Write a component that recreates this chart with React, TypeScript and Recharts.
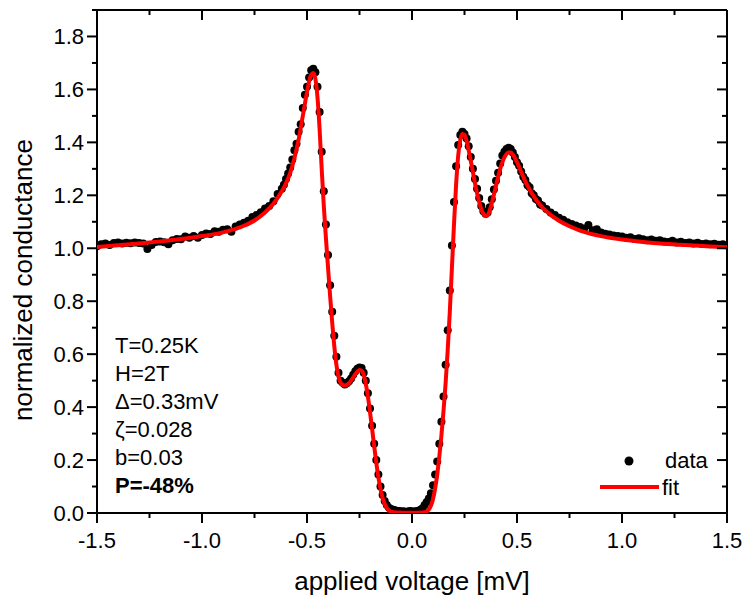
import { ComposedChart, ReferenceLine, Scatter, XAxis, YAxis } from 'recharts'

const FONT = '"Liberation Sans", Arial, sans-serif'
const W = 746
const H = 598
const M = { top: 10, right: 19, left: 0, bottom: 0 }
const Y_AXIS_W = 97
const X_AXIS_H = 85
const PLOT_W = W - M.left - M.right - Y_AXIS_W
const PLOT_H = H - M.top - M.bottom - X_AXIS_H

const X_TICKS = [-1.5, -1.25, -1.0, -0.75, -0.5, -0.25, 0, 0.25, 0.5, 0.75, 1.0, 1.25, 1.5]
const Y_TICKS = [0, 0.1, 0.2, 0.3, 0.4, 0.5, 0.6, 0.7, 0.8, 0.9, 1.0, 1.1, 1.2, 1.3, 1.4, 1.5, 1.6, 1.7, 1.8, 1.9]

const PARAMS = ['T=0.25K', 'H=2T', 'Δ=0.33mV', 'ζ=0.028', 'b=0.03']
const POLARIZATION = 'P=-48%'

// fit curve: [voltage mV, normalized conductance]
const fitCurve: [number, number][] = [
  [-1.5, 1.005], [-1.4, 1.011], [-1.3, 1.018], [-1.2, 1.026], [-1.1, 1.035], [-1.0, 1.046],
  [-0.9, 1.06], [-0.8, 1.085], [-0.75, 1.105], [-0.7, 1.135], [-0.66, 1.168], [-0.62, 1.215],
  [-0.6, 1.245], [-0.58, 1.285], [-0.56, 1.34], [-0.54, 1.41], [-0.52, 1.5], [-0.5, 1.59],
  [-0.49, 1.63], [-0.48, 1.655], [-0.47, 1.662], [-0.46, 1.64], [-0.45, 1.57], [-0.44, 1.45],
  [-0.43, 1.3], [-0.42, 1.16], [-0.41, 1.04], [-0.4, 0.93], [-0.39, 0.82], [-0.38, 0.72],
  [-0.37, 0.63], [-0.36, 0.56], [-0.35, 0.515], [-0.34, 0.492], [-0.33, 0.484], [-0.32, 0.482],
  [-0.31, 0.484], [-0.3, 0.49], [-0.28, 0.512], [-0.26, 0.534], [-0.25, 0.54], [-0.24, 0.538],
  [-0.23, 0.522], [-0.22, 0.488], [-0.21, 0.44], [-0.2, 0.382], [-0.19, 0.318], [-0.18, 0.252],
  [-0.17, 0.19], [-0.16, 0.135], [-0.15, 0.09], [-0.14, 0.057], [-0.13, 0.034], [-0.12, 0.019],
  [-0.11, 0.01], [-0.1, 0.005], [-0.07, 0.002], [0.0, 0.001], [0.05, 0.002], [0.07, 0.006],
  [0.08, 0.013], [0.09, 0.027], [0.1, 0.052], [0.11, 0.092], [0.12, 0.145], [0.13, 0.212],
  [0.14, 0.292], [0.15, 0.385], [0.16, 0.49], [0.17, 0.615], [0.18, 0.76], [0.19, 0.925],
  [0.2, 1.09], [0.21, 1.24], [0.22, 1.35], [0.23, 1.41], [0.24, 1.432], [0.25, 1.428],
  [0.26, 1.405], [0.27, 1.37], [0.28, 1.33], [0.29, 1.288], [0.3, 1.245], [0.31, 1.208],
  [0.32, 1.175], [0.33, 1.148], [0.34, 1.13], [0.35, 1.121], [0.36, 1.124], [0.37, 1.142],
  [0.38, 1.17], [0.39, 1.203], [0.4, 1.236], [0.42, 1.3], [0.44, 1.343], [0.46, 1.362],
  [0.47, 1.362], [0.48, 1.354], [0.5, 1.325], [0.52, 1.288], [0.54, 1.252], [0.56, 1.222],
  [0.58, 1.196], [0.6, 1.174], [0.63, 1.147], [0.66, 1.126], [0.7, 1.104], [0.75, 1.083],
  [0.8, 1.067], [0.9, 1.046], [1.0, 1.033], [1.1, 1.024], [1.2, 1.017], [1.3, 1.012],
  [1.4, 1.008], [1.5, 1.004],
]

// measured points: [voltage mV, normalized conductance]
const measured: [number, number][] = [
  [-1.5, 1.008], [-1.48, 1.015], [-1.46, 1.018], [-1.44, 1.012], [-1.42, 1.02], [-1.4, 1.022],
  [-1.38, 1.018], [-1.36, 1.021], [-1.34, 1.019], [-1.32, 1.022], [-1.3, 1.02], [-1.28, 1.018],
  [-1.26, 0.997], [-1.24, 1.012], [-1.22, 1.024], [-1.2, 1.026], [-1.18, 1.023], [-1.16, 1.015],
  [-1.14, 1.03], [-1.12, 1.035], [-1.1, 1.034], [-1.08, 1.044], [-1.06, 1.04], [-1.04, 1.046],
  [-1.02, 1.04], [-1.0, 1.05], [-0.98, 1.056], [-0.96, 1.054], [-0.94, 1.064], [-0.92, 1.062],
  [-0.9, 1.07], [-0.88, 1.072], [-0.86, 1.062], [-0.84, 1.082], [-0.82, 1.09], [-0.8, 1.096],
  [-0.78, 1.104], [-0.76, 1.118], [-0.74, 1.126], [-0.72, 1.136], [-0.7, 1.15], [-0.68, 1.16],
  [-0.66, 1.178], [-0.64, 1.205], [-0.62, 1.225],
  [-0.61, 1.24], [-0.6, 1.262], [-0.59, 1.282], [-0.58, 1.305], [-0.57, 1.335], [-0.56, 1.37],
  [-0.55, 1.395], [-0.54, 1.44], [-0.53, 1.468], [-0.52, 1.53], [-0.51, 1.58], [-0.5, 1.61],
  [-0.49, 1.645], [-0.48, 1.672], [-0.47, 1.678], [-0.46, 1.665], [-0.45, 1.61], [-0.44, 1.515],
  [-0.43, 1.365], [-0.42, 1.215], [-0.41, 1.09], [-0.4, 0.975], [-0.39, 0.86], [-0.38, 0.76],
  [-0.37, 0.67], [-0.36, 0.59], [-0.35, 0.53], [-0.34, 0.5], [-0.33, 0.492], [-0.32, 0.485],
  [-0.31, 0.49], [-0.3, 0.498], [-0.29, 0.508], [-0.28, 0.522], [-0.27, 0.535], [-0.26, 0.545],
  [-0.25, 0.55], [-0.24, 0.548], [-0.23, 0.53], [-0.22, 0.5], [-0.21, 0.452], [-0.2, 0.395],
  [-0.19, 0.33], [-0.18, 0.262], [-0.17, 0.2], [-0.16, 0.145], [-0.15, 0.1], [-0.14, 0.068],
  [-0.13, 0.045], [-0.12, 0.03], [-0.11, 0.02], [-0.1, 0.015], [-0.09, 0.012], [-0.08, 0.01],
  [-0.07, 0.008], [-0.06, 0.008], [-0.05, 0.006], [-0.04, 0.007], [-0.03, 0.005], [-0.02, 0.006],
  [-0.01, 0.008], [0.0, 0.007], [0.01, 0.005], [0.02, 0.008], [0.03, 0.006], [0.04, 0.012],
  [0.05, 0.018], [0.06, 0.03], [0.07, 0.042], [0.08, 0.055], [0.09, 0.075], [0.1, 0.105],
  [0.11, 0.145], [0.12, 0.195], [0.13, 0.262], [0.14, 0.345], [0.15, 0.44], [0.16, 0.56],
  [0.17, 0.69], [0.18, 0.84], [0.19, 1.01], [0.2, 1.175], [0.21, 1.31], [0.22, 1.39],
  [0.23, 1.428], [0.24, 1.44], [0.25, 1.432], [0.26, 1.415], [0.27, 1.385], [0.28, 1.345],
  [0.29, 1.3], [0.3, 1.262], [0.31, 1.225], [0.32, 1.19], [0.33, 1.16], [0.34, 1.14],
  [0.35, 1.13], [0.36, 1.135], [0.37, 1.155], [0.38, 1.185], [0.39, 1.222], [0.4, 1.255],
  [0.41, 1.285], [0.42, 1.32], [0.43, 1.35], [0.44, 1.365], [0.45, 1.375], [0.46, 1.38],
  [0.47, 1.375], [0.48, 1.362], [0.49, 1.345], [0.5, 1.325], [0.51, 1.312], [0.52, 1.29],
  [0.53, 1.27], [0.54, 1.258], [0.55, 1.238], [0.56, 1.23], [0.57, 1.208], [0.58, 1.2],
  [0.59, 1.186], [0.6, 1.18], [0.61, 1.165],
  [0.62, 1.162], [0.64, 1.148], [0.66, 1.135], [0.68, 1.126], [0.7, 1.115], [0.72, 1.108],
  [0.74, 1.098], [0.76, 1.092], [0.78, 1.086], [0.8, 1.08], [0.82, 1.075], [0.84, 1.088],
  [0.86, 1.068], [0.88, 1.072], [0.9, 1.06], [0.92, 1.055], [0.94, 1.052], [0.96, 1.048],
  [0.98, 1.046], [1.0, 1.044], [1.02, 1.04], [1.04, 1.042], [1.06, 1.035], [1.08, 1.038],
  [1.1, 1.034], [1.12, 1.03], [1.14, 1.033], [1.16, 1.028], [1.18, 1.03], [1.2, 1.026],
  [1.22, 1.024], [1.24, 1.028], [1.26, 1.022], [1.28, 1.025], [1.3, 1.02], [1.32, 1.022],
  [1.34, 1.018], [1.36, 1.021], [1.38, 1.016], [1.4, 1.018], [1.42, 1.015], [1.44, 1.017],
  [1.46, 1.013], [1.48, 1.015], [1.5, 1.012],
]

const fitRows = fitCurve.map(([v, g]) => ({ v, g }))
const dataRows = measured.map(([v, g]) => ({ v, g }))

function XTick({ x, y, payload }: any) {
  const v = payload.value
  const major = Math.abs(v * 2 - Math.round(v * 2)) < 1e-6
  const len = major ? 10 : 5
  return (
    <g>
      <line x1={x} x2={x} y1={y} y2={y + len} stroke="#000" strokeWidth={2} />
      <line x1={x} x2={x} y1={y - PLOT_H} y2={y - PLOT_H + len} stroke="#000" strokeWidth={2} />
      {major && (
        <text x={x} y={y + 35} textAnchor="middle" fontSize={22} fontFamily={FONT} fill="#000">
          {v.toFixed(1)}
        </text>
      )}
    </g>
  )
}

function YTick({ x, y, payload }: any) {
  const v = payload.value
  const major = Math.round(v * 10) % 2 === 0
  const len = major ? 10 : 5
  return (
    <g>
      <line x1={x - len} x2={x} y1={y} y2={y} stroke="#000" strokeWidth={2} />
      <line x1={x + PLOT_W - len} x2={x + PLOT_W} y1={y} y2={y} stroke="#000" strokeWidth={2} />
      {major && v < 1.85 && (
        <text x={x - 13} y={y + 8} textAnchor="end" fontSize={22} fontFamily={FONT} fill="#000">
          {v.toFixed(1)}
        </text>
      )}
    </g>
  )
}

const Dot = ({ cx, cy }: any) => <circle cx={cx} cy={cy} r={4} fill="#000" />
const NoShape = () => <g />

export default function App() {
  return (
    <div style={{ position: 'absolute', left: 0, top: 0, width: W, height: H, background: '#fff' }}>
      <ComposedChart width={W} height={H} margin={M}>
        <XAxis
          type="number"
          dataKey="v"
          domain={[-1.5, 1.5]}
          ticks={X_TICKS}
          interval={0}
          allowDataOverflow
          height={X_AXIS_H}
          tickSize={0}
          tickMargin={0}
          tickLine={false}
          tick={<XTick />}
          axisLine={{ stroke: '#000', strokeWidth: 2 }}
        />
        <YAxis
          type="number"
          dataKey="g"
          domain={[0, 1.9]}
          ticks={Y_TICKS}
          interval={0}
          allowDataOverflow
          width={Y_AXIS_W}
          tickSize={0}
          tickMargin={0}
          tickLine={false}
          tick={<YTick />}
          axisLine={{ stroke: '#000', strokeWidth: 2 }}
        />
        <ReferenceLine y={1.9} stroke="#000" strokeWidth={2} />
        <ReferenceLine x={1.5} stroke="#000" strokeWidth={2} />
        <Scatter data={dataRows} dataKey="g" shape={<Dot />} isAnimationActive={false} />
        {/* fit drawn as a scatter line so it sits above the data dots */}
        <Scatter
          data={fitRows}
          dataKey="g"
          shape={<NoShape />}
          line={{ stroke: '#ff0000', strokeWidth: 4, fill: 'none' }}
          lineType="joint"
          lineJointType="monotoneX"
          isAnimationActive={false}
        />
      </ComposedChart>
      <svg
        width={W}
        height={H}
        style={{ position: 'absolute', left: 0, top: 0, pointerEvents: 'none' }}
        fontFamily={FONT}
      >
        {PARAMS.map((t, i) => (
          <text key={t} x={115} y={353 + i * 28} fontSize={22} fill="#000">
            {t}
          </text>
        ))}
        <text x={115} y={493} fontSize={22} fontWeight="bold" fill="#000">
          {POLARIZATION}
        </text>
        <circle cx={629} cy={461} r={4.5} fill="#000" />
        <text x={665} y={468} fontSize={22} fill="#000">data</text>
        <line x1={600} x2={659} y1={487} y2={487} stroke="#ff0000" strokeWidth={4} />
        <text x={662} y={495} fontSize={22} fill="#000">fit</text>
        <text x={M.left + Y_AXIS_W + PLOT_W / 2} y={590} textAnchor="middle" fontSize={26} fill="#000">
          applied voltage [mV]
        </text>
        <text x={32} y={280} transform="rotate(-90 32 280)" textAnchor="middle" fontSize={26} fill="#000">
          normalized conductance
        </text>
      </svg>
    </div>
  )
}
